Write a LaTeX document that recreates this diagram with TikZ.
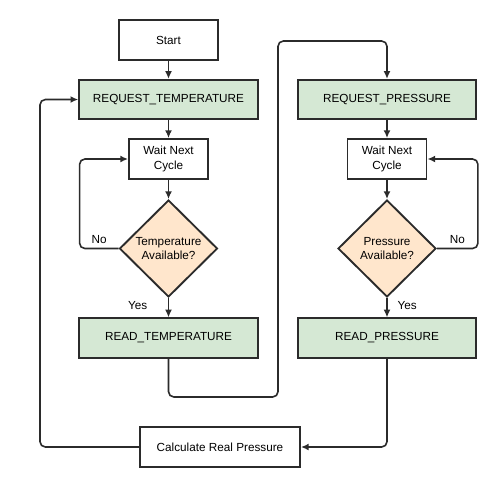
\documentclass[tikz,border=0pt]{standalone}
\usepackage{fontspec}
\setsansfont{Liberation Sans}
\definecolor{stepgreen}{HTML}{D5E8D4}
\definecolor{askorange}{HTML}{FFE6CC}
\definecolor{edgegray}{HTML}{2B2B2B}
\tikzset{every picture/.style={/utils/exec={\sffamily}}}
\usetikzlibrary{shapes.geometric}
\usetikzlibrary{arrows.meta}

\tikzset{
  plainbox/.style={draw=edgegray, line width=1.4pt, fill=white, align=center, inner sep=2pt, minimum height=30pt},
  regbox/.style={plainbox, fill=stepgreen, minimum width=134pt, minimum height=29.5pt},
  askbox/.style={draw=edgegray, line width=1.4pt, fill=askorange, diamond, aspect=1, inner sep=0pt, minimum width=73.5pt, minimum height=72.75pt, align=center},
  flow/.style={draw=edgegray, line width=1.2pt, rounded corners=4pt, -{Latex[length=5.8pt,width=5.2pt]}},
}

\begin{document}
\begin{tikzpicture}[x=0.75pt, y=-0.75pt, font=\fontsize{8.8}{10.6}\selectfont]
  \useasboundingbox (0,0) rectangle (500,487);

  % left column
  \node [plainbox, minimum width=74.25pt] (start) at (168.5,40) {Start};
  \node [regbox] (reqT) at (168.5,99.5) {REQUEST\_TEMPERATURE};
  \node [plainbox, minimum width=59.25pt] (waitT) at (168.5,159) {Wait Next\\Cycle};
  \node [askbox] (askT) at (168.5,248.5) {Temperature\\Available?};
  \node [regbox] (readT) at (168.5,338) {READ\_TEMPERATURE};

  % right column
  \node [regbox] (reqP) at (387,99.5) {REQUEST\_PRESSURE};
  \node [plainbox, minimum width=59.25pt] (waitP) at (387,159) {Wait Next\\Cycle};
  \node [askbox] (askP) at (387,248.5) {Pressure\\Available?};
  \node [regbox] (readP) at (387,338) {READ\_PRESSURE};

  \node [plainbox, minimum width=120pt] (calc) at (220,447) {Calculate Real Pressure};

  \coordinate (hopA) at (278,397);
  \coordinate (hopB) at (278,41);
  \coordinate (backL) at (40,99.5);

  \foreach \u/\v in {start/reqT, reqT/waitT, waitT/askT, reqP/waitP, waitP/askP} {
    \draw [flow] (\u) -- (\v);
  }
  \draw [flow] (askT) -- node [pos=0.4, left=12pt] {Yes} (readT);
  \draw [flow] (askP) -- node [pos=0.4, right=4pt] {Yes} (readP);

  \draw [flow] (askT.west) -- ++(-39,0) node [midway, above] {No} |- (waitT.west);
  \draw [flow] (askP.east) -- ++(41,0) node [midway, above] {No} |- (waitP.east);

  \draw [flow] (readT.south) |- (hopA) -- (hopB) -| (reqP.north);
  \draw [flow] (readP.south) |- (calc.east);
  \draw [flow] (calc.west) -| (backL) -- (reqT.west);
\end{tikzpicture}
\end{document}
